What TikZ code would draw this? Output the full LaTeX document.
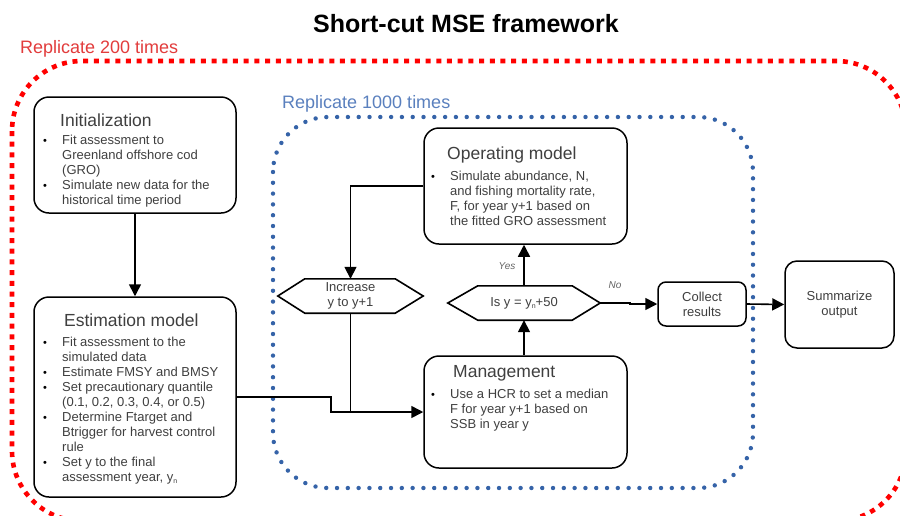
\documentclass[tikz,border=0pt]{standalone}
\usepackage{fontspec}
\setmainfont{Liberation Sans}
\usetikzlibrary{arrows.meta,calc}
\definecolor{txtgray}{HTML}{3F3F3F}
\definecolor{dotblue}{HTML}{3563A8}
\definecolor{lblblue}{HTML}{5A80BE}
\definecolor{lblred}{HTML}{E23C3C}
\newcommand{\bl}[1]{\makebox[19pt][l]{\color{black}\fontsize{11}{11}\selectfont •}#1}
\newcommand{\cl}[1]{\hspace*{19pt}#1}
\newcommand{\subn}{\raisebox{-2pt}{\fontsize{7}{7}\selectfont n}}
\tikzset{
  box/.style={draw=black, line width=1.5pt, rounded corners=15pt, inner sep=0pt},
  ttl/.style={font=\fontsize{17.5}{20}\selectfont, text=txtgray, inner sep=0pt, anchor=west},
  body/.style={font=\fontsize{13}{15}\selectfont, text=txtgray, inner sep=0pt, align=left, anchor=north west},
  small/.style={font=\fontsize{13}{15}\selectfont, text=txtgray, align=center, inner sep=0pt},
  lbl/.style={font=\fontsize{10}{11}\selectfont\itshape, text=txtgray!80, inner sep=0pt},
  conn/.style={draw=black, line width=1.6pt},
  arr/.style={conn, -{Triangle[length=12pt,width=12pt]}},
}
\begin{document}
\begin{tikzpicture}[x=1pt,y=-1pt]
\useasboundingbox[fill=white] (0,0) rectangle (900,515);

% title
\node[font=\fontsize{25}{28}\selectfont\bfseries, inner sep=0pt] (title) at (466,24) {Short-cut MSE framework};

% outer red loop
\draw[red, line width=4.6pt, dash pattern=on 5pt off 5.7pt, rounded corners=70pt] (12,61) rectangle (906,521);
\node[font=\fontsize{18}{20}\selectfont, text=lblred, anchor=west, inner sep=0pt] (red) at (20,49) {Replicate 200 times};

% inner blue loop
\draw[dotblue, line width=4.4pt, line cap=round, dash pattern=on 0pt off 10.8pt, rounded corners=55pt] (273,117) rectangle (753,488);
\node[font=\fontsize{18}{20}\selectfont, text=lblblue, anchor=west, inner sep=0pt] (blue) at (282,104) {Replicate 1000 times};

% Initialization
\node[box, minimum width=202pt, minimum height=116pt] (init) at (135,155) {};
\node[ttl] (initT) at (60,120) {Initialization};
\node[body] (initB) at (43,135) {\bl{Fit assessment to}\\ \cl{Greenland offshore cod}\\ \cl{(GRO)}\\ \bl{Simulate new data for the}\\ \cl{historical time period}};

% Estimation model
\node[box, minimum width=202pt, minimum height=200pt] (est) at (135,397) {};
\node[ttl] (estT) at (64,320) {Estimation model};
\node[body] (estB) at (43,337) {\bl{Fit assessment to the}\\ \cl{simulated data}\\ \bl{Estimate FMSY and BMSY}\\ \bl{Set precautionary quantile}\\ \cl{(0.1, 0.2, 0.3, 0.4, or 0.5)}\\ \bl{Determine Ftarget and}\\ \cl{Btrigger for harvest control}\\ \cl{rule}\\ \bl{Set y to the final}\\ \cl{assessment year, y\subn}};

% Operating model
\node[box, minimum width=203pt, minimum height=116pt] (op) at (525.5,186) {};
\node[ttl] (opT) at (447,155) {Operating model};
\node[body] (opB) at (431,171) {\bl{Simulate abundance, N,}\\ \cl{and fishing mortality rate,}\\ \cl{F, for year y+1 based on}\\ \cl{the fitted GRO assessment}};

% Management
\node[box, minimum width=203pt, minimum height=112pt] (mgmt) at (525.5,412) {};
\node[ttl] (mgmtT) at (453,373) {Management};
\node[body] (mgmtB) at (431,389) {\bl{Use a HCR to set a median}\\ \cl{F for year y+1 based on}\\ \cl{SSB in year y}};

% Increase hexagon
\node[small, minimum width=145pt, minimum height=34pt] (inc) at (350.5,296) {Increase\\y to y+1};
\draw[conn] (inc.west) -- ($(inc.north west)+(27,0)$) -- ($(inc.north east)+(-28,0)$) -- (inc.east) -- ($(inc.south east)+(-28,0)$) -- ($(inc.south west)+(27,0)$) -- cycle;

% Decision hexagon
\node[small, minimum width=152pt, minimum height=34pt] (isy) at (524,303) {Is y = y\subn+50};
\draw[conn] (isy.west) -- ($(isy.north west)+(30,0)$) -- ($(isy.north east)+(-28,0)$) -- (isy.east) -- ($(isy.south east)+(-28,0)$) -- ($(isy.south west)+(30,0)$) -- cycle;

% Collect results
\node[box, rounded corners=8pt, minimum width=88pt, minimum height=44pt, small] (coll) at (702,304) {Collect\\results};
% Summarize output
\node[box, rounded corners=12pt, minimum width=109pt, minimum height=87pt, small] (summ) at (839.5,304.5) {Summarize\\output};

% connectors
\draw[arr] (init.south) -- (est.north);
\draw[arr] (op.west) -| (inc.north);
\draw[conn] (inc.south) -- (inc.south |- mgmt.west);
\draw[arr] (est.east) -- ++(94,0) |- (mgmt.west);
\draw[arr] (isy.south |- mgmt.north) -- (isy.south);
\draw[arr] (isy.north) -- (isy.north |- op.south);
\draw[arr] (isy.east) -- ++(30,0) |- (coll.west);
\draw[arr] (coll.east) -- (summ.west);

\node[lbl] (yes) at (507,266) {Yes};
\node[lbl] (no) at (615,285) {No};
\end{tikzpicture}
\end{document}
